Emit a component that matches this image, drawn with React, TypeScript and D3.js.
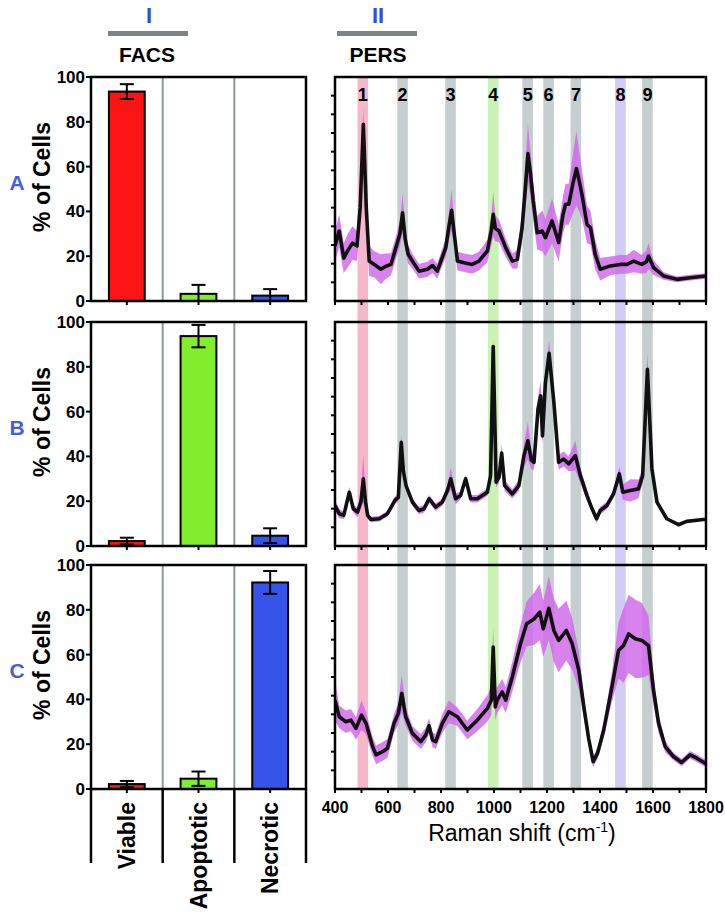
import React from 'react';
import * as d3 from 'd3';

// ---- data ----
const categories = ['Viable', 'Apoptotic', 'Necrotic'];
const barColors = ['#fa1414', '#80ee2c', '#3654ea'];
const rowNames = ['A', 'B', 'C'];

const barsA = [93.5, 3.2, 2.4];
const errA = [3.3, 4.0, 2.9];
const barsB = [2.2, 93.7, 4.6];
const errB = [1.5, 5.0, 3.3];
const barsC = [2.2, 4.6, 92.2];
const errC = [1.4, 3.2, 5.1];

const barTicks = [0, 20, 40, 60, 80, 100];
const ramanTicks = [400, 600, 800, 1000, 1200, 1400, 1600, 1800];

// highlighted Raman bands (cm-1)
const peakLabels = ['1', '2', '3', '4', '5', '6', '7', '8', '9'];
const peakCenters = [505, 655, 836, 997, 1127, 1206, 1309, 1477, 1579];
const peakColors = ['#f7b7cb', '#c6cfcf', '#c6cfcf', '#c9f2b4', '#c6cfcf', '#c6cfcf', '#c6cfcf', '#d2ccf4', '#c6cfcf'];

// [wavenumber, mean, sd] in tick units (0..12)
const spectrumA: [number, number, number][] = [
  [400, 2.95, 0.8], [416, 3.75, 0.9], [433, 2.3, 0.8], [448, 2.7, 0.9], [466, 3.1, 0.9],
  [483, 2.95, 0.8], [495, 5.0, 0.9], [507, 9.46, 0.9], [518, 5.0, 0.8], [529, 2.14, 0.8],
  [548, 1.96, 0.7], [573, 1.7, 0.8], [590, 1.85, 0.7], [611, 1.96, 0.6], [633, 3.0, 0.6],
  [645, 3.6, 0.7], [655, 4.73, 1.0], [665, 3.3, 0.6], [676, 2.5, 0.5], [692, 2.14, 0.4],
  [717, 1.6, 0.4], [749, 1.7, 0.4], [768, 1.9, 0.4], [786, 1.6, 0.4], [818, 2.86, 0.5],
  [830, 4.0, 0.7], [840, 4.86, 1.1], [850, 3.6, 0.6], [862, 2.14, 0.5], [887, 2.05, 0.5],
  [918, 1.96, 0.5], [943, 2.14, 0.5], [975, 2.68, 0.6], [990, 3.8, 0.8], [997, 4.64, 1.2],
  [1005, 3.9, 0.7], [1019, 3.75, 0.6], [1044, 2.86, 0.5], [1069, 2.14, 0.4], [1088, 2.23, 0.5],
  [1106, 3.93, 0.8], [1118, 6.0, 1.2], [1128, 7.9, 1.6], [1138, 6.8, 1.2], [1148, 5.36, 1.0],
  [1163, 3.66, 0.9], [1182, 3.75, 1.1], [1194, 3.39, 1.0], [1219, 4.29, 1.2], [1244, 3.13, 1.0],
  [1260, 4.6, 1.0], [1270, 5.18, 1.1], [1282, 5.18, 1.1], [1298, 6.3, 1.6], [1311, 7.1, 2.0],
  [1322, 6.4, 1.6], [1332, 5.7, 1.3], [1351, 4.1, 1.0], [1364, 3.93, 0.9], [1382, 2.5, 0.8],
  [1401, 1.7, 0.6], [1439, 1.88, 0.5], [1477, 1.96, 0.5], [1502, 1.96, 0.5], [1527, 2.14, 0.6],
  [1558, 1.96, 0.5], [1575, 2.1, 0.6], [1583, 2.41, 0.7], [1602, 1.79, 0.4], [1640, 1.34, 0.2],
  [1690, 1.16, 0.15], [1740, 1.25, 0.15], [1800, 1.34, 0.15],
];

const spectrumB: [number, number, number][] = [
  [400, 2.17, 0.3], [416, 1.73, 0.25], [433, 1.64, 0.2], [454, 2.88, 0.3], [469, 1.99, 0.2],
  [485, 1.81, 0.25], [498, 2.4, 0.4], [507, 3.6, 1.3], [515, 2.4, 0.4], [523, 1.64, 0.2],
  [536, 1.42, 0.15], [567, 1.46, 0.15], [598, 1.73, 0.15], [626, 2.44, 0.2], [639, 2.6, 0.2],
  [650, 5.55, 0.4], [658, 4.0, 0.3], [668, 3.24, 0.25], [692, 2.35, 0.2], [717, 1.9, 0.2],
  [736, 1.99, 0.2], [755, 2.53, 0.2], [780, 2.08, 0.2], [805, 2.35, 0.2], [825, 3.0, 0.3],
  [837, 3.6, 0.6], [855, 2.53, 0.3], [874, 2.7, 0.2], [893, 3.6, 0.2], [912, 2.53, 0.2],
  [937, 2.53, 0.2], [975, 2.88, 0.2], [987, 3.77, 0.3], [997, 10.68, 0.4], [1008, 3.42, 0.3],
  [1019, 3.68, 0.3], [1029, 4.98, 0.5], [1040, 3.24, 0.3], [1069, 2.79, 0.25], [1094, 3.24, 0.3],
  [1113, 4.84, 0.6], [1128, 5.64, 1.0], [1141, 4.6, 0.5], [1151, 4.48, 0.4], [1166, 7.33, 0.6],
  [1176, 8.04, 0.8], [1183, 5.9, 0.5], [1194, 8.75, 0.5], [1208, 10.32, 0.7], [1226, 7.69, 0.4],
  [1244, 4.48, 0.4], [1263, 4.66, 0.4], [1282, 4.4, 0.4], [1307, 4.84, 0.8], [1326, 3.77, 0.4],
  [1351, 2.7, 0.3], [1370, 1.99, 0.2], [1387, 1.46, 0.25], [1401, 1.9, 0.2], [1426, 2.17, 0.2],
  [1451, 2.79, 0.2], [1473, 3.86, 0.4], [1486, 2.88, 0.4], [1514, 2.97, 0.6], [1545, 3.06, 0.5],
  [1561, 3.77, 0.4], [1579, 9.47, 0.9], [1596, 4.13, 0.3], [1615, 2.35, 0.1], [1652, 1.46, 0.05],
  [1696, 1.14, 0.05], [1727, 1.32, 0.05], [1790, 1.42, 0.05], [1800, 1.42, 0.05],
];

const spectrumC: [number, number, number][] = [
  [400, 4.76, 1.1], [416, 3.87, 0.6], [441, 3.6, 0.6], [460, 3.69, 0.6], [479, 3.25, 0.6],
  [500, 3.96, 0.8], [517, 3.52, 0.6], [542, 2.27, 0.5], [555, 1.83, 0.5], [579, 2.0, 0.5],
  [598, 2.18, 0.5], [623, 3.52, 0.5], [639, 4.05, 0.6], [652, 5.12, 1.0], [667, 3.87, 0.5],
  [692, 2.98, 0.4], [724, 2.54, 0.4], [743, 2.9, 0.4], [755, 3.39, 0.4], [768, 2.63, 0.4],
  [780, 2.54, 0.4], [805, 3.52, 0.5], [830, 4.14, 0.6], [862, 3.87, 0.5], [899, 3.16, 0.5],
  [937, 3.69, 0.6], [975, 4.32, 0.7], [990, 4.76, 0.8], [997, 7.6, 1.0], [1005, 4.4, 0.7],
  [1012, 4.76, 0.7], [1031, 5.2, 0.7], [1044, 4.76, 0.7], [1069, 6.0, 0.8], [1100, 7.78, 1.0],
  [1123, 8.85, 1.2], [1151, 9.11, 1.4], [1173, 9.47, 1.5], [1186, 8.58, 1.5], [1207, 9.68, 1.7],
  [1226, 8.49, 1.7], [1244, 7.96, 1.7], [1273, 8.49, 1.6], [1295, 7.78, 1.4], [1320, 6.36, 1.0],
  [1339, 4.4, 0.6], [1357, 2.72, 0.4], [1374, 1.47, 0.3], [1391, 1.92, 0.3], [1414, 3.16, 0.4],
  [1445, 5.47, 0.8], [1470, 7.42, 1.5], [1489, 7.69, 2.0], [1508, 8.31, 2.1], [1533, 8.05, 2.1],
  [1558, 7.96, 2.0], [1583, 7.69, 1.6], [1602, 5.29, 0.8], [1621, 3.52, 0.5], [1646, 2.27, 0.3],
  [1677, 1.74, 0.2], [1708, 1.42, 0.2], [1740, 1.83, 0.2], [1765, 1.65, 0.2], [1800, 1.35, 0.2],
];

const barRows = [barsA, barsB, barsC];
const errRows = [errA, errB, errC];
const spectra = [spectrumA, spectrumB, spectrumC];

// ---- layout ----
const W = 725;
const H = 918;
const FONT = "'Liberation Sans', Arial, Helvetica, sans-serif";
const rowTop = [77, 322, 565];
const rowH = 224;
const barLeft = 91;
const barRight = 306;
const specLeft = 335;
const specRight = 706;

const xBar = d3.scaleBand<string>().domain(categories).range([barLeft, barRight]);
const xRaman = d3.scaleLinear().domain([400, 1800]).range([specLeft, specRight]);
const ramanMinor = d3.range(400, 1801, 100);
const specYTicks = d3.range(1, 12);

type Pt = [number, number, number];

function Row({ i }: { i: number }) {
  const top = rowTop[i];
  const bottom = top + rowH;
  const yBar = d3.scaleLinear().domain([0, 100]).range([bottom, top]);
  const ySpec = d3.scaleLinear().domain([0, 12]).range([bottom, top]);
  const area = d3.area<Pt>()
    .x(d => xRaman(d[0]))
    .y0(d => ySpec(Math.max(0, d[1] - d[2])))
    .y1(d => ySpec(d[1] + d[2]));
  const line = d3.line<Pt>().x(d => xRaman(d[0])).y(d => ySpec(d[1]));
  const bw = xBar.bandwidth() * 0.5;
  const vals = barRows[i];
  const errs = errRows[i];
  const mid = (top + bottom) / 2;

  return (
    <g>
      {/* row label and y title */}
      <text x={17} y={mid + 1} textAnchor="middle" fontSize={21} fontWeight="bold" fill="#4a5be0" fontFamily={FONT}>
        {rowNames[i]}
      </text>
      <text transform={`translate(50,${mid - 12}) rotate(-90)`} textAnchor="middle" fontSize={23} fontWeight="bold" fontFamily={FONT}>
        % of Cells
      </text>

      {/* FACS bar panel */}
      {categories.slice(1).map(c => (
        <line key={c} x1={xBar(c)} x2={xBar(c)} y1={top} y2={bottom} stroke="#8d9a9a" strokeWidth={2} />
      ))}
      {categories.map((c, k) => {
        const cx = (xBar(c) as number) + xBar.bandwidth() / 2;
        const lo = Math.max(0, vals[k] - errs[k]);
        const hi = vals[k] + errs[k];
        return (
          <g key={c}>
            <rect x={cx - bw / 2} y={yBar(vals[k])} width={bw} height={yBar(0) - yBar(vals[k])}
              fill={barColors[k]} stroke="#000" strokeWidth={2} />
            <line x1={cx} x2={cx} y1={yBar(lo)} y2={yBar(hi)} stroke="#000" strokeWidth={2} />
            <line x1={cx - 7} x2={cx + 7} y1={yBar(hi)} y2={yBar(hi)} stroke="#000" strokeWidth={2} />
            {vals[k] - errs[k] > 0 && (
              <line x1={cx - 7} x2={cx + 7} y1={yBar(lo)} y2={yBar(lo)} stroke="#000" strokeWidth={2} />
            )}
            <line x1={cx} x2={cx} y1={bottom} y2={bottom + 4} stroke="#000" strokeWidth={2} />
          </g>
        );
      })}
      <rect x={barLeft} y={top} width={barRight - barLeft} height={rowH} fill="none" stroke="#000" strokeWidth={2.5} />
      {barTicks.map(t => (
        <g key={t}>
          <line x1={barLeft - 5} x2={barLeft} y1={yBar(t)} y2={yBar(t)} stroke="#000" strokeWidth={2} />
          <text x={barLeft - 6} y={yBar(t) + 6} textAnchor="end" fontSize={17} fontWeight="bold" fontFamily={FONT}>
            {t}
          </text>
        </g>
      ))}

      {/* PERS spectrum panel */}
      <clipPath id={`clip${i}`}>
        <rect x={specLeft} y={top} width={specRight - specLeft} height={rowH} />
      </clipPath>
      <g clipPath={`url(#clip${i})`}>
        <path d={area(spectra[i]) || ''} fill="#cf66ea" fillOpacity={0.82} />
        <path d={line(spectra[i]) || ''} fill="none" stroke="#111" strokeWidth={3.6} strokeLinejoin="round" />
      </g>
      <rect x={specLeft} y={top} width={specRight - specLeft} height={rowH} fill="none" stroke="#000" strokeWidth={2.5} />
      {ramanMinor.map(t => (
        <line key={t} x1={xRaman(t)} x2={xRaman(t)} y1={bottom} y2={bottom + 4} stroke="#000" strokeWidth={2} />
      ))}
      {specYTicks.map(t => (
        <line key={t} x1={specLeft - 4} x2={specLeft} y1={ySpec(t)} y2={ySpec(t)} stroke="#000" strokeWidth={2} />
      ))}
    </g>
  );
}

export default function App() {
  const bandTop = rowTop[0];
  const bandBottom = rowTop[2] + rowH;
  const catBottom = 863;
  const lastBottom = rowTop[2] + rowH;
  const boundaries = [...categories.map(c => xBar(c) as number), barRight];

  return (
    <svg width={W} height={H} style={{ position: 'absolute', left: 0, top: 0, background: '#fff' }} fontFamily={FONT}>
      {/* header */}
      <text x={149} y={23} textAnchor="middle" fontSize={22} fontWeight="bold" fill="#3848e0" fontFamily={FONT}>I</text>
      <rect x={108} y={31} width={80} height={5} fill="#7c8585" />
      <text x={147} y={62} textAnchor="middle" fontSize={21} fontWeight="bold" fontFamily={FONT}>FACS</text>
      <text x={378} y={23} textAnchor="middle" fontSize={22} fontWeight="bold" fill="#3848e0" fontFamily={FONT}>II</text>
      <rect x={337} y={31} width={80} height={5} fill="#7c8585" />
      <text x={378} y={62} textAnchor="middle" fontSize={21} fontWeight="bold" fontFamily={FONT}>PERS</text>

      {/* highlighted Raman bands spanning all spectra */}
      {peakCenters.map((c, k) => (
        <rect key={k} x={xRaman(c - 20)} y={bandTop} width={xRaman(c + 20) - xRaman(c - 20)}
          height={bandBottom - bandTop} fill={peakColors[k]} />
      ))}

      {rowTop.map((_, i) => <Row key={i} i={i} />)}

      {peakCenters.map((c, k) => (
        <text key={k} x={xRaman(c)} y={101} textAnchor="middle" fontSize={18} fontWeight="bold" fontFamily={FONT}>
          {peakLabels[k]}
        </text>
      ))}

      {/* category axis under FACS panel C */}
      {boundaries.map((b, k) => (
        <line key={k} x1={b} x2={b} y1={lastBottom} y2={catBottom} stroke="#000" strokeWidth={2.5} />
      ))}
      {categories.map(c => (
        <text key={c} transform={`translate(${(xBar(c) as number) + xBar.bandwidth() / 2 + 8},${lastBottom + 13}) rotate(-90)`}
          textAnchor="end" fontSize={23} fontWeight="bold" fontFamily={FONT}>
          {c}
        </text>
      ))}

      {/* Raman axis labels */}
      {ramanTicks.map(t => (
        <text key={t} x={xRaman(t)} y={813} textAnchor="middle" fontSize={16} fontWeight="bold" fontFamily={FONT}>
          {t}
        </text>
      ))}
      <text x={522} y={841} textAnchor="middle" fontSize={23} fontFamily={FONT}>
        Raman shift (cm<tspan dy={-9} fontSize={14}>-1</tspan><tspan dy={9}>)</tspan>
      </text>
    </svg>
  );
}
